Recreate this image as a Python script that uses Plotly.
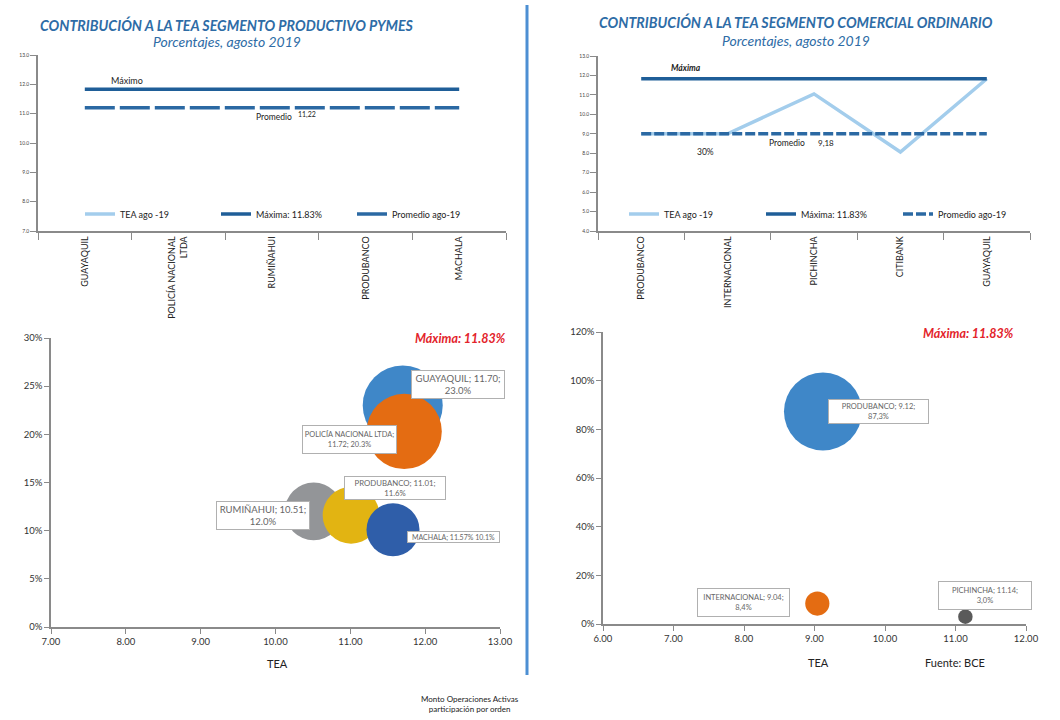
import plotly.graph_objects as go

# ---------------- DATA ----------------
pymes_cats = ["GUAYAQUIL", "POLICÍA NACIONAL<br>LTDA", "RUMIÑAHUI", "PRODUBANCO", "MACHALA"]
pymes_tea = [None, None, None, None, None]          # line not drawn in the reference
pymes_max = [11.83, 11.83, 11.83, 11.83, 11.83]
pymes_prom = [11.20, 11.20, 11.20, 11.20, 11.20]

com_cats = ["PRODUBANCO", "INTERNACIONAL", "PICHINCHA", "CITIBANK", "GUAYAQUIL"]
com_tea = [9.0, 9.0, 11.05, 8.06, 11.83]
com_max = [11.83, 11.83, 11.83, 11.83, 11.83]
com_prom = [9.0, 9.0, 9.0, 9.0, 9.0]

bub_pymes_names = ["GUAYAQUIL", "POLICÍA NACIONAL LTDA", "RUMIÑAHUI", "PRODUBANCO", "MACHALA"]
bub_pymes_tea = [11.70, 11.72, 10.51, 11.01, 11.57]
bub_pymes_part = [23.0, 20.3, 12.0, 11.6, 10.1]
bub_pymes_colors = ["#3f87c8", "#e46c12", "#939598", "#e2b412", "#2f5ea9"]

bub_com_names = ["PRODUBANCO", "INTERNACIONAL", "PICHINCHA"]
bub_com_tea = [9.12, 9.04, 11.14]
bub_com_part = [87.3, 8.4, 3.0]
bub_com_colors = ["#3f87c8", "#e46c12", "#5a5a5a"]

W, H = 1060, 720
FONT = "Lato"
TITLE_C = "#2e6ca6"


def px(x):
    return x / W


def py(y):
    return 1 - y / H


fig = go.Figure()

C_TEA = "#a3cdec"
C_MAX = "#1f5e98"
C_PROM = "#2b69a3"

# Top-left lines
fig.add_trace(go.Scatter(x=pymes_cats, y=pymes_tea, mode="lines", name="TEA ago -19",
                         line=dict(color=C_TEA, width=3.5), xaxis="x", yaxis="y", legend="legend"))
fig.add_trace(go.Scatter(x=pymes_cats, y=pymes_max, mode="lines", name="Máxima: 11.83%",
                         line=dict(color=C_MAX, width=3.5), xaxis="x", yaxis="y", legend="legend"))
fig.add_trace(go.Scatter(x=pymes_cats, y=pymes_prom, mode="lines", name="Promedio ago-19",
                         line=dict(color=C_PROM, width=3.5, dash="30px,5px"), xaxis="x", yaxis="y",
                         legend="legend"))

# Top-right lines
fig.add_trace(go.Scatter(x=com_cats, y=com_tea, mode="lines", name="TEA ago -19",
                         line=dict(color=C_TEA, width=3.5), xaxis="x2", yaxis="y2", legend="legend2"))
fig.add_trace(go.Scatter(x=com_cats, y=com_max, mode="lines", name="Máxima: 11.83%",
                         line=dict(color=C_MAX, width=3.5), xaxis="x2", yaxis="y2", legend="legend2"))
fig.add_trace(go.Scatter(x=com_cats, y=com_prom, mode="lines", name="Promedio ago-19",
                         line=dict(color=C_PROM, width=3.5, dash="10px,3px"), xaxis="x2", yaxis="y2",
                         legend="legend2"))

# Bubbles
fig.add_trace(go.Scatter(x=bub_pymes_tea, y=bub_pymes_part, mode="markers", showlegend=False,
                         marker=dict(size=bub_pymes_part, sizemode="area",
                                     sizeref=2 * max(bub_pymes_part) / 80 ** 2,
                                     color=bub_pymes_colors, opacity=1, line=dict(width=0)),
                         xaxis="x3", yaxis="y3"))
fig.add_trace(go.Scatter(x=bub_com_tea, y=bub_com_part, mode="markers", showlegend=False,
                         marker=dict(size=bub_com_part, sizemode="area",
                                     sizeref=2 * max(bub_com_part) / 78 ** 2,
                                     color=bub_com_colors, opacity=1, line=dict(width=0)),
                         xaxis="x4", yaxis="y4"))

AX_C = "#8a8a8a"
common_ax = dict(showline=True, linecolor=AX_C, linewidth=1.5, ticks="outside", tickcolor=AX_C,
                 tickwidth=1.2, showgrid=False, zeroline=False, fixedrange=True, automargin=False)

layout = dict(
    width=W, height=H, autosize=False,
    margin=dict(l=0, r=0, t=0, b=0, autoexpand=False),
    paper_bgcolor="white", plot_bgcolor="rgba(0,0,0,0)",
    font=dict(family=FONT, color="#222"),
    xaxis=dict(domain=[px(38), px(506)], anchor="y", type="category", range=[-0.5, 4.5],
               tickson="boundaries", ticklen=7, tickangle=-90, tickfont=dict(size=9, color="#222"),
               **common_ax),
    yaxis=dict(domain=[py(231), py(55)], anchor="x", range=[7, 13], dtick=1, tickformat=".1f",
               ticklen=6, tickfont=dict(size=5, color="#444"), **common_ax),
    xaxis2=dict(domain=[px(598), px(1030)], anchor="y2", type="category", range=[-0.5, 4.5],
                tickson="boundaries", ticklen=7, tickangle=-90, tickfont=dict(size=9, color="#222"),
                **common_ax),
    yaxis2=dict(domain=[py(231), py(56)], anchor="x2", range=[4, 13], dtick=1, tickformat=".1f",
                ticklen=6, tickfont=dict(size=5, color="#444"), **common_ax),
    xaxis3=dict(domain=[px(51), px(500)], anchor="y3", range=[7, 13], dtick=1, tickformat=".2f",
                ticklen=5, tickfont=dict(size=9.5, color="#333"), **common_ax),
    yaxis3=dict(domain=[py(627), py(338)], anchor="x3", range=[0, 30], dtick=5, ticksuffix="%",
                ticklen=5, tickfont=dict(size=9.5, color="#333"), **common_ax),
    xaxis4=dict(domain=[px(603), px(1026)], anchor="y4", range=[6, 12], dtick=1, tickformat=".2f",
                ticklen=5, tickfont=dict(size=9.5, color="#333"), **common_ax),
    yaxis4=dict(domain=[py(624), py(332)], anchor="x4", range=[0, 120], dtick=20, ticksuffix="%",
                ticklen=5, tickfont=dict(size=9.5, color="#333"), **common_ax),
    legend=dict(orientation="h", x=px(80), y=py(214), xanchor="left", yanchor="middle",
                font=dict(size=9, color="#222"), itemwidth=30, entrywidth=91,
                entrywidthmode="pixels", bgcolor="rgba(0,0,0,0)"),
    legend2=dict(orientation="h", x=px(624), y=py(214), xanchor="left", yanchor="middle",
                 font=dict(size=9, color="#222"), itemwidth=30, entrywidth=92,
                 entrywidthmode="pixels", bgcolor="rgba(0,0,0,0)"),
)
fig.update_layout(**layout)

ann = []


def text(x, y, t, size, color="#222", family=FONT):
    ann.append(dict(x=px(x), y=py(y), xref="paper", yref="paper", text=t, showarrow=False,
                    font=dict(size=size, color=color, family=family), xanchor="center",
                    yanchor="middle"))


# Titles
text(227, 25, "<b><i>CONTRIBUCIÓN A LA TEA SEGMENTO PRODUCTIVO PYMES</i></b>", 14.2, TITLE_C)
text(227, 41, "<i>Porcentajes, agosto 2019</i>", 14, TITLE_C)
text(796, 22, "<b><i>CONTRIBUCIÓN A LA TEA SEGMENTO COMERCIAL ORDINARIO</i></b>", 14.2, TITLE_C)
text(796, 40, "<i>Porcentajes, agosto 2019</i>", 14, TITLE_C)

# Line chart notes
text(127, 80, "Máximo", 9)
text(274, 117, "Promedio", 8.5)
text(307, 114, "11,22", 7)
text(686, 68, "<b><i>Máxima</i></b>", 8.5)
text(705, 152, "30%", 8.5)
text(787, 143, "Promedio", 8.5)
text(826, 143, "9,18", 8)

# Bubble chart notes
text(460, 338, "<b><i>Máxima: 11.83%</i></b>", 12.5, "#e3232b")
text(968, 333, "<b><i>Máxima: 11.83%</i></b>", 12.5, "#e3232b")
text(277, 663, "TEA", 11)
text(818, 662, "TEA", 11)
text(955, 662, "Fuente: BCE", 11)
text(470, 704, "Monto Operaciones Activas<br>participación por orden", 8)


def box(x, y, t, w, h, size):
    ann.append(dict(x=px(x), y=py(y), xref="paper", yref="paper", text=t, showarrow=False,
                    font=dict(size=size, color="#666", family=FONT), xanchor="center",
                    yanchor="middle", bgcolor="white", bordercolor="#b0b0b0", borderwidth=1,
                    borderpad=0, width=w, height=h, align="center", valign="middle"))


pymes_labels = [f"{n}; {t:.2f};<br>{p:.1f}%" for n, t, p in zip(bub_pymes_names, bub_pymes_tea, bub_pymes_part)]
pymes_labels[1] = f"{bub_pymes_names[1]};<br>{bub_pymes_tea[1]:.2f}; {bub_pymes_part[1]:.1f}%"
pymes_labels[4] = f"{bub_pymes_names[4]}; {bub_pymes_tea[4]:.2f}% {bub_pymes_part[4]:.1f}%"
pymes_boxes = [(458, 384, 92, 27, 9.5), (349, 439, 93, 27, 7.4), (263, 515, 92, 27, 9.5),
               (395, 488, 100, 22, 7.8), (453, 537, 91, 10, 7)]
for lab, (bx, by, bw, bh, fs) in zip(pymes_labels, pymes_boxes):
    box(bx, by, lab, bw, bh, fs)

com_labels = [f"{n}; {t:.2f};<br>{str(p).replace('.', ',')}%" for n, t, p in
              zip(bub_com_names, bub_com_tea, bub_com_part)]
com_boxes = [(878, 411, 99, 23, 7.5), (743, 602, 91, 27, 7.5), (985, 595, 92, 27, 7.5)]
for lab, (bx, by, bw, bh, fs) in zip(com_labels, com_boxes):
    box(bx, by, lab, bw, bh, fs)

fig.update_layout(annotations=ann)

# Divider
fig.add_shape(type="line", xref="paper", yref="paper", x0=px(527), x1=px(527), y0=py(5), y1=py(675),
              line=dict(color="#4d8fd3", width=3))

fig.write_html("out.html", config={"displayModeBar": False},
               post_script="document.body.style.margin='0';")
